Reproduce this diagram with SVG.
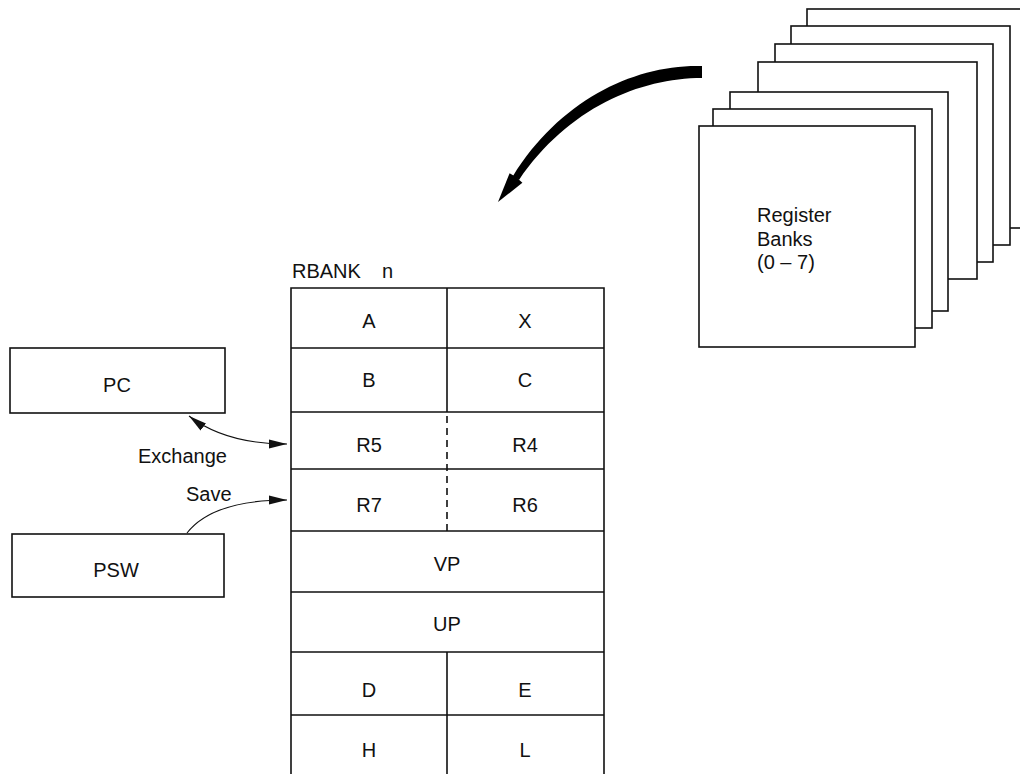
<svg xmlns="http://www.w3.org/2000/svg" width="1020" height="774" viewBox="0 0 1020 774">
<style>
  text { font-family: "Liberation Sans", Arial, sans-serif; font-size: 20px; fill: #111; }
  .c { text-anchor: middle; }
  .box { fill: #fff; stroke: #111; stroke-width: 1.6; }
  .ln { stroke: #111; stroke-width: 1.6; fill: none; }
  .dash { stroke: #111; stroke-width: 1.6; stroke-dasharray: 7 5; fill: none; }
  .conn { stroke: #111; stroke-width: 1.1; fill: none; }
</style>
<defs>
  <marker id="ah" markerUnits="userSpaceOnUse" markerWidth="18" markerHeight="10" refX="18" refY="4.5" orient="auto-start-reverse" viewBox="0 0 18 9">
    <path d="M0,0 L18,4.5 L0,9 z" fill="#111"/>
  </marker>
</defs>
<rect width="1020" height="774" fill="#fff"/>

<g id="register-banks">
  <rect class="box" x="807" y="9" width="220" height="219"/>
  <rect class="box" x="791" y="26" width="219" height="219"/>
  <rect class="box" x="775" y="44" width="218" height="218"/>
  <rect class="box" x="758" y="62" width="219" height="217"/>
  <rect class="box" x="730" y="92" width="218" height="219"/>
  <rect class="box" x="713" y="109" width="219" height="219"/>
  <rect class="box" x="699" y="126" width="216" height="221" stroke-width="2"/>
  <text x="757" y="222" font-size="21">Register</text>
  <text x="757" y="246" font-size="21">Banks</text>
  <text x="757" y="269" font-size="21">(0 – 7)</text>
</g>

<g id="rbank">
  <text x="292" y="278">RBANK</text>
  <text x="382" y="278">n</text>
  <path class="ln" d="M291,774 V288 H604 V774"/>
  <path class="ln" d="M291,348 H604 M291,412 H604 M291,469 H604 M291,531 H604 M291,592 H604 M291,652 H604 M291,715 H604"/>
  <path class="ln" d="M447,288 V412 M447,652 V774"/>
  <path class="dash" d="M447,416 V531"/>
  <text class="c" x="369" y="328">A</text>
  <text class="c" x="525" y="328">X</text>
  <text class="c" x="369" y="387">B</text>
  <text class="c" x="525" y="387">C</text>
  <text class="c" x="369" y="452">R5</text>
  <text class="c" x="525" y="452">R4</text>
  <text class="c" x="369" y="512">R7</text>
  <text class="c" x="525" y="512">R6</text>
  <text class="c" x="447" y="571">VP</text>
  <text class="c" x="447" y="631">UP</text>
  <text class="c" x="369" y="697">D</text>
  <text class="c" x="525" y="697">E</text>
  <text class="c" x="369" y="757">H</text>
  <text class="c" x="525" y="757">L</text>
</g>

<g id="pc">
  <rect class="box" x="10" y="348" width="215" height="65"/>
  <text class="c" x="117" y="392">PC</text>
</g>

<g id="psw">
  <rect class="box" x="12" y="534" width="212" height="63"/>
  <text class="c" x="116" y="577">PSW</text>
</g>

<g id="connectors">
  <path class="conn" d="M189,416 C215,436 250,444 287,444" marker-start="url(#ah)" marker-end="url(#ah)"/>
  <path class="conn" d="M187,533 C205,510 240,500 287,500" marker-end="url(#ah)"/>
  <path d="M702,66 C635,64 560,100 513,176 L519,180 C568,108 640,78 702,78 Z" fill="#000"/>
  <path d="M498,202 L509.6,173.2 L516,177 L522.4,182.8 Z" fill="#000"/>
  <text x="138" y="463">Exchange</text>
  <text x="186" y="501">Save</text>
</g>
</svg>
